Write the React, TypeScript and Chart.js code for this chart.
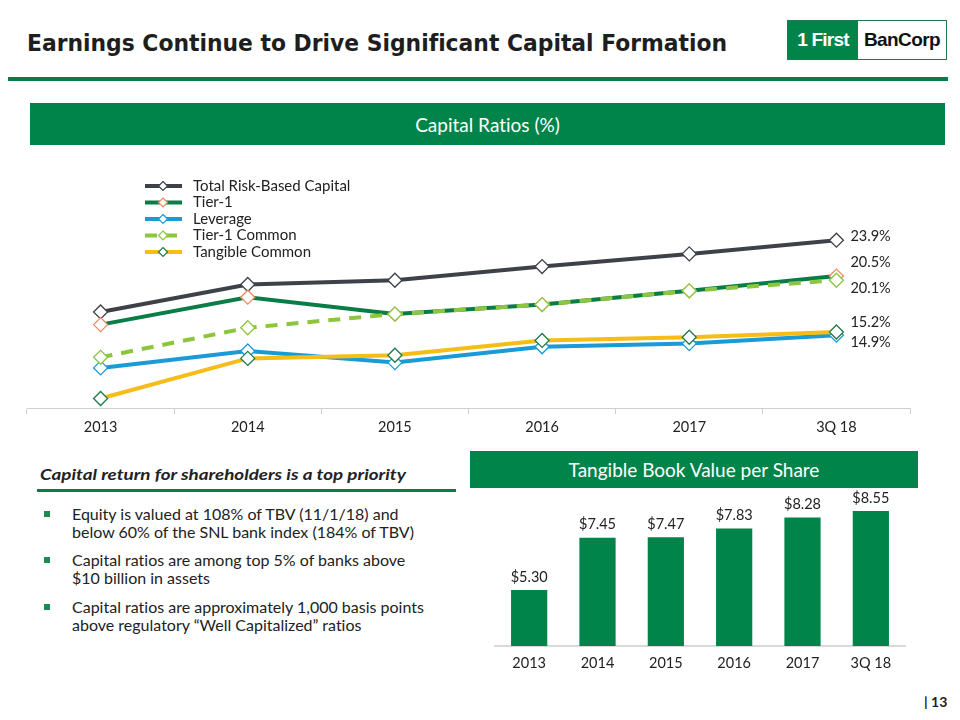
import React, { useEffect, useLayoutEffect, useRef } from "react";
import { Chart, registerables } from "chart.js";

Chart.register(...registerables);

// ---------- data ----------
const lineCategories = ["2013", "2014", "2015", "2016", "2017", "3Q 18"];
const seriesNames = ["Total Risk-Based Capital", "Tier-1", "Leverage", "Tier-1 Common", "Tangible Common"];
const totalRiskBased = [17.1, 19.7, 20.1, 21.4, 22.6, 23.9];
const tier1 = [15.9, 18.5, 16.9, 17.8, 19.1, 20.5];
const leverage = [11.8, 13.4, 12.3, 13.8, 14.1, 14.9];
const tier1Common = [12.8, 15.6, 16.9, 17.8, 19.1, 20.1];
const tangibleCommon = [8.9, 12.7, 13.0, 14.4, 14.7, 15.2];

const barCategories = ["2013", "2014", "2015", "2016", "2017", "3Q 18"];
const tbvPerShare = [5.3, 7.45, 7.47, 7.83, 8.28, 8.55];

// ---------- styles ----------
const GREEN = "#00844A";
const DARKGREEN = "#0A7D47";
const FONT = "Lato, 'Noto Sans', sans-serif";
const COND = "'DejaVu Sans Condensed', 'DejaVu Sans', sans-serif";
const lineColors = ["#3D4148", "#0A7D47", "#1A9AD6", "#8CC63E", "#F6BC17"];
const markerColors = ["#3D4148", "#EE8A5F", "#1A9AD6", "#8CC63E", "#1E7B4A"];
const drawOrder = [5, 4, 3, 2, 1];
const lastLabelDy = [-4, -14, 7, 8, -10];

const lineLegendPlugin = {
  id: "lineLegend",
  afterDraw(chart: any) {
    const ctx = chart.ctx;
    ctx.save();
    chart.data.datasets.forEach((ds: any, i: number) => {
      const y = 36 + i * 16.5;
      ctx.strokeStyle = ds.borderColor;
      ctx.lineWidth = 4;
      ctx.setLineDash(ds.borderDash && ds.borderDash.length ? [12, 8] : []);
      ctx.beginPath();
      ctx.moveTo(145, y);
      ctx.lineTo(182, y);
      ctx.stroke();
      ctx.setLineDash([]);
      ctx.beginPath();
      const r = 4.5, cx = 163;
      ctx.moveTo(cx, y - r);
      ctx.lineTo(cx + r, y);
      ctx.lineTo(cx, y + r);
      ctx.lineTo(cx - r, y);
      ctx.closePath();
      ctx.fillStyle = "#fff";
      ctx.fill();
      ctx.lineWidth = 1.2;
      ctx.strokeStyle = ds.pointBorderColor;
      ctx.stroke();
      ctx.fillStyle = "#222";
      ctx.font = `15px ${FONT}`;
      ctx.textBaseline = "middle";
      ctx.textAlign = "left";
      ctx.fillText(ds.label, 193, y);
    });
    chart.data.datasets.forEach((ds: any, i: number) => {
      const meta = chart.getDatasetMeta(i);
      const n = meta.data.length - 1;
      const pt = meta.data[n];
      const v = ds.data[n];
      ctx.fillStyle = "#222";
      ctx.font = `14.5px ${FONT}`;
      ctx.textBaseline = "middle";
      ctx.textAlign = "left";
      ctx.fillText(`${v.toFixed(1)}%`, pt.x + 14, pt.y + lastLabelDy[i]);
    });
    ctx.restore();
  },
};

const barLabelPlugin = {
  id: "barLabels",
  afterDatasetsDraw(chart: any) {
    const ctx = chart.ctx;
    const meta = chart.getDatasetMeta(0);
    ctx.save();
    ctx.fillStyle = "#222";
    ctx.font = `14.5px ${FONT}`;
    ctx.textAlign = "center";
    ctx.textBaseline = "middle";
    meta.data.forEach((bar: any, i: number) => {
      ctx.fillText(`$${chart.data.datasets[0].data[i].toFixed(2)}`, bar.x, bar.y - 13);
    });
    ctx.restore();
  },
};

function LineChart() {
  const ref = useRef<HTMLCanvasElement>(null);
  useEffect(() => {
    const values = [totalRiskBased, tier1, leverage, tier1Common, tangibleCommon];
    const chart = new Chart(ref.current!, {
      type: "line",
      data: {
        labels: lineCategories,
        datasets: values.map((d, i) => ({
          label: seriesNames[i],
          data: d,
          borderColor: lineColors[i],
          borderWidth: 4,
          borderDash: i === 3 ? [12, 9] : [],
          pointStyle: "rectRot",
          pointRadius: 7,
          pointBorderWidth: 1.3,
          pointBackgroundColor: "#fff",
          pointBorderColor: markerColors[i],
          tension: 0,
          order: drawOrder[i],
        })),
      },
      options: {
        responsive: false,
        animation: false,
        layout: { padding: { left: 27, right: 50, top: 68, bottom: 12 } },
        plugins: { legend: { display: false }, tooltip: { enabled: false } },
        scales: {
          x: {
            offset: true,
            grid: { display: true, drawOnChartArea: false, drawTicks: true, tickLength: 6, color: "#CFCFCF", offset: true },
            border: { display: true, color: "#CFCFCF", width: 1 },
            ticks: { font: { family: FONT, size: 14.5 }, color: "#222", padding: 5 },
            afterFit: (s: any) => { s.height = 30; },
          },
          y: { display: false, min: 8, max: 26 },
        },
      },
      plugins: [lineLegendPlugin],
    });
    return () => chart.destroy();
  }, []);
  return <canvas ref={ref} width={960} height={300} style={{ position: "absolute", left: 0, top: 150, width: 960, height: 300 }} />;
}

function BarChart() {
  const ref = useRef<HTMLCanvasElement>(null);
  useEffect(() => {
    const chart = new Chart(ref.current!, {
      type: "bar",
      data: {
        labels: barCategories,
        datasets: [{ data: tbvPerShare, backgroundColor: GREEN, barPercentage: 0.53, categoryPercentage: 1 }],
      },
      options: {
        responsive: false,
        animation: false,
        layout: { padding: { left: 25, right: 35, top: 10, bottom: 14 } },
        plugins: { legend: { display: false }, tooltip: { enabled: false } },
        scales: {
          x: {
            grid: { display: false, drawTicks: false },
            border: { display: true, color: "#D9D9D9", width: 2 },
            ticks: { font: { family: FONT, size: 14.5 }, color: "#222", padding: 9 },
            afterFit: (s: any) => { s.height = 30; },
          },
          y: { display: false, min: 3, max: 9 },
        },
      },
      plugins: [barLabelPlugin],
    });
    return () => chart.destroy();
  }, []);
  return <canvas ref={ref} width={470} height={200} style={{ position: "absolute", left: 470, top: 490, width: 470, height: 200 }} />;
}

function Fit({ width, style, children }: { width: number; style: React.CSSProperties; children: React.ReactNode }) {
  const ref = useRef<HTMLDivElement>(null);
  useLayoutEffect(() => {
    const apply = () => {
      const el = ref.current;
      if (!el) return;
      el.style.transform = "none";
      const w = el.getBoundingClientRect().width;
      if (w > 0) el.style.transform = `scaleX(${width / w})`;
    };
    apply();
    (document as any).fonts?.ready?.then(apply);
  }, [width]);
  return (
    <div ref={ref} style={{ position: "absolute", whiteSpace: "nowrap", transformOrigin: "0 0", display: "inline-block", ...style }}>
      {children}
    </div>
  );
}

const bulletLines: string[][] = [
  ["Equity is valued at 108% of TBV (11/1/18) and", "below 60% of the SNL bank index (184% of TBV)"],
  ["Capital ratios are among top 5% of banks above", "$10 billion in assets"],
  ["Capital ratios are approximately 1,000 basis points", "above regulatory \u201CWell Capitalized\u201D ratios"],
];
const bulletTops = [505, 551, 598];

export default function App() {
  return (
    <div style={{ position: "absolute", left: 0, top: 0, width: 960, height: 720, background: "#fff", overflow: "hidden", fontFamily: FONT, color: "#222", fontVariantLigatures: "none" }}>
      <Fit width={700} style={{ left: 27, top: 26, fontFamily: COND, fontWeight: 700, fontSize: 23, color: "#1E1E1E", lineHeight: "34px" }}>
        Earnings Continue to Drive Significant Capital Formation
      </Fit>
      {/* logo */}
      <div style={{ position: "absolute", left: 787, top: 20, width: 160, height: 40, border: "1px solid #1E7B4A", boxSizing: "border-box", display: "flex" }}>
        <div style={{ width: 70, background: GREEN, color: "#fff", fontFamily: "'Liberation Sans', Arial, sans-serif", fontWeight: 700, fontSize: 19, display: "flex", alignItems: "center", justifyContent: "center", letterSpacing: -0.8 }}>
          1 First
        </div>
        <div style={{ flex: 1, background: "#fff", color: "#111", fontFamily: "'Liberation Sans', Arial, sans-serif", fontWeight: 700, fontSize: 19, display: "flex", alignItems: "center", justifyContent: "center", letterSpacing: -0.6 }}>
          BanCorp
        </div>
      </div>
      <div style={{ position: "absolute", left: 8, top: 77, width: 940, height: 4, background: DARKGREEN }} />
      <div style={{ position: "absolute", left: 30, top: 103, width: 915, height: 42, background: GREEN, color: "#fff", fontSize: 19, display: "flex", alignItems: "center", justifyContent: "center" }}>
        Capital Ratios (%)
      </div>
      <LineChart />
      <Fit width={366} style={{ left: 40, top: 464, fontSize: 16, fontWeight: 700, fontStyle: "italic", lineHeight: "20px" }}>
        Capital return for shareholders is a top priority
      </Fit>
      <div style={{ position: "absolute", left: 37, top: 489, width: 419, height: 3, background: DARKGREEN }} />
      {bulletLines.map((lines, i) => (
        <div key={i} style={{ position: "absolute", left: 44, top: bulletTops[i], whiteSpace: "nowrap" }}>
          <div style={{ position: "absolute", left: 0, top: 6, width: 6, height: 6, background: "#1E8A4F" }} />
          <div style={{ position: "absolute", left: 28, top: 0, fontSize: 16, lineHeight: "18px" }}>
            {lines[0]}
            <br />
            {lines[1]}
          </div>
        </div>
      ))}
      <div style={{ position: "absolute", left: 470, top: 451, width: 448, height: 37, background: GREEN, color: "#fff", fontSize: 19, display: "flex", alignItems: "center", justifyContent: "center" }}>
        Tangible Book Value per Share
      </div>
      <BarChart />
      <div style={{ position: "absolute", left: 924, top: 693, fontSize: 14, fontWeight: 700, whiteSpace: "nowrap" }}>| 13</div>
    </div>
  );
}
